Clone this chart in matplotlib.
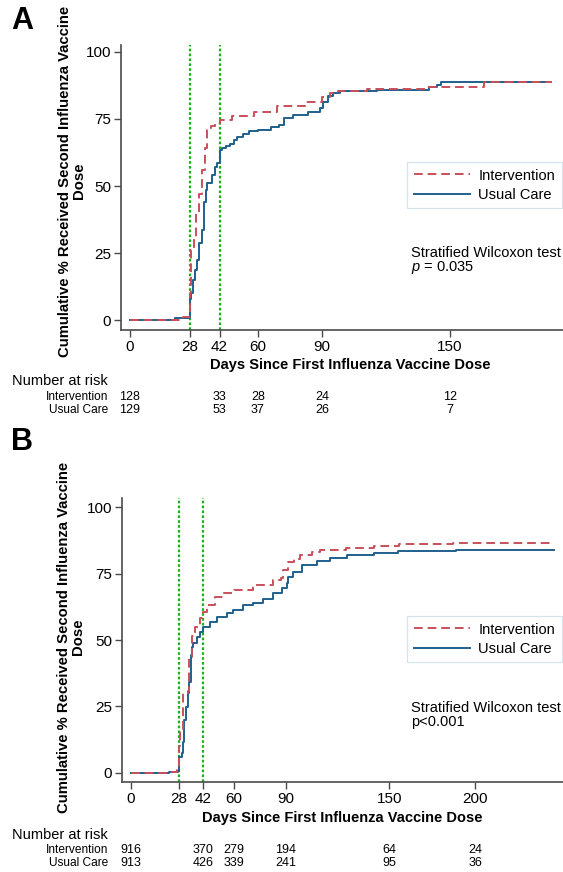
import matplotlib
matplotlib.use("Agg")
import matplotlib.pyplot as plt
from matplotlib.transforms import blended_transform_factory

plt.rcParams['font.family'] = ['Liberation Sans', 'DejaVu Sans']
plt.rcParams['mathtext.fontset'] = 'custom'
plt.rcParams['mathtext.it'] = 'Liberation Sans:italic'
plt.rcParams['mathtext.rm'] = 'Liberation Sans'

# panel A: cumulative % (step curves)
a_int_t = [0, 25, 28, 28.5, 30, 31, 32.5, 34, 35, 36, 38, 40, 42, 48, 58, 69, 82, 90, 94, 97.5, 111, 139, 166, 198]
a_int_y = [0, 1, 10, 26, 31, 40, 47, 56, 64, 71, 72.5, 73.5, 74.5, 76, 77.7, 79.8, 81.5, 83.3, 84.6, 85.5, 86.2, 87, 88.7, 88.7]
a_uc_t = [0, 21, 28, 28.5, 29.7, 30.5, 31.5, 32.5, 33.7, 34.5, 35.5, 36.3, 38.5, 40, 41, 42, 43, 45, 47, 49, 50,
          53, 56, 60, 66, 70, 72, 76.5, 83.5, 89, 90.5, 93, 95, 98.5, 115.6, 140, 144, 146, 195.3]
a_uc_y = [0, 0.8, 8, 10, 15, 18.7, 22.4, 28.7, 33.6, 44.1, 48.5, 51, 54, 57.2, 58.5, 63.4, 64.2, 65, 65.8, 67.2, 68.4,
          69.5, 70.5, 71, 72, 72.8, 75.2, 76.5, 77.6, 79, 81.5, 83.5, 84.6, 85.4, 85.8, 86.8, 87.7, 88.7, 88.7]
a_xticks = [0, 28, 42, 60, 90, 150]
a_risk_days = [0, 42, 60, 90, 150]
a_risk_int = [128, 33, 28, 24, 12]
a_risk_uc = [129, 53, 37, 26, 7]
a_ptext = "$\\it{p}$ = 0.035"

# panel B
b_int_t = [0, 22, 27, 28, 28.5, 30, 30.4, 33, 33.9, 35.3, 37.2, 40, 42, 44, 48.8, 53.7, 60, 71, 82.7, 87, 88.5,
           91.5, 95, 98.3, 105, 110, 125, 141, 156, 187, 245.5]
b_int_y = [0, 0.3, 1, 10, 15.5, 19.9, 30, 31, 43.7, 51.6, 55, 58.1, 60.6, 63.2, 66.3, 67.5, 68.8, 70.7, 72.6, 73.5, 76.3,
           79.4, 80.5, 82, 83, 83.8, 84.7, 85.4, 86, 86.6, 86.6]
b_uc_t = [0, 22, 27.5, 28, 29.4, 30.4, 31, 32, 33, 34, 35, 35.5, 36.2, 38.2, 40.1, 42, 45.9, 49.8, 55.6, 59.5, 65.3,
          71, 76.9, 82.7, 87.6, 90.5, 91.5, 94.4, 99.2, 108, 115.7, 125.4, 141, 155.4, 189, 245.5]
b_uc_y = [0, 0.3, 0.75, 6.1, 7.5, 11.8, 19.9, 24.9, 30, 34.3, 44.4, 47.5, 48.8, 51.3, 53.1, 55, 56.9, 58.8, 60, 61.3, 63.2,
          64, 65.6, 67.5, 69.4, 71.3, 73.8, 75.7, 78.2, 79.8, 80.7, 82, 82.6, 83.5, 84, 84]
b_xticks = [0, 28, 42, 60, 90, 150, 200]
b_risk_days = [0, 42, 60, 90, 150, 200]
b_risk_int = [916, 370, 279, 194, 64, 24]
b_risk_uc = [913, 426, 339, 241, 95, 36]
b_ptext = "p<0.001"

yticks = [0, 25, 50, 75, 100]
red = "#c9505a"
blue = "#1f5f8e"
green = "#19b019"
spine_c = "#4a4a4a"

W, H = 563, 872
fig = plt.figure(figsize=(W / 100, H / 100), dpi=100)


def px(x, y):
    return x / W, 1 - y / H


def panel(rect, xlim, ylim, int_t, int_y, uc_t, uc_y, xticks, risk_days, risk_int, risk_uc, ptext,
          letter, letter_y, ylab_xy, xlab_xy, stat_y, leg_y, risk_y):
    l, t, r, b = rect
    ax = fig.add_axes([l / W, 1 - b / H, (r - l) / W, (b - t) / H])
    ax.axvline(28, color=green, lw=1.6, ls=(0, (1.2, 1.0)), zorder=1)
    ax.axvline(42, color=green, lw=1.6, ls=(0, (1.2, 1.0)), zorder=1)
    ax.step(uc_t, uc_y, where='post', color=blue, lw=1.4, label='Usual Care', zorder=2)
    ax.step(int_t, int_y, where='post', color=red, lw=1.4, ls=(0, (4.5, 2.5)), label='Intervention', zorder=3)
    ax.set_xlim(*xlim)
    ax.set_ylim(*ylim)
    ax.set_xticks(xticks)
    ax.set_yticks(yticks)
    ax.tick_params(labelsize=11, length=5, width=1.0, color=spine_c, pad=2)
    for s in ['top', 'right']:
        ax.spines[s].set_visible(False)
    for s in ['left', 'bottom']:
        ax.spines[s].set_color(spine_c)
        ax.spines[s].set_linewidth(1.2)
    handles, labels = ax.get_legend_handles_labels()
    leg = ax.legend(handles[::-1], labels[::-1], loc='upper left', bbox_to_anchor=px(407, leg_y),
                    bbox_transform=fig.transFigure, fontsize=10.5, handlelength=3.9, handletextpad=0.55,
                    labelspacing=0.35, borderpad=0.45, borderaxespad=0, fancybox=False, framealpha=1)
    leg.get_frame().set_edgecolor('#d6e3ea')
    leg.get_frame().set_linewidth(0.9)

    fig.text(*px(411, stat_y), "Stratified Wilcoxon test\n" + ptext, fontsize=10.5, va='center', ha='left',
             linespacing=0.95)
    fig.text(*px(11, letter_y), letter, fontsize=22, fontweight='bold', va='center', ha='left')
    fig.text(*px(*ylab_xy), "Cumulative % Received Second Influenza Vaccine\nDose", rotation=90,
             fontsize=10.7, fontweight='bold', ha='center', va='center', multialignment='center',
             linespacing=1.05)
    fig.text(*px(*xlab_xy), "Days Since First Influenza Vaccine Dose", fontsize=10.5,
             fontweight='bold', ha='center', va='center')

    tr = blended_transform_factory(ax.transData, fig.transFigure)
    fig.text(*px(12, risk_y[0]), "Number at risk", fontsize=10.5, ha='left', va='center')
    fig.text(*px(108, risk_y[1]), "Intervention", fontsize=8.6, ha='right', va='center')
    fig.text(*px(108, risk_y[2]), "Usual Care", fontsize=8.6, ha='right', va='center')
    for d, n1, n2 in zip(risk_days, risk_int, risk_uc):
        ax.text(d, 1 - risk_y[1] / H, str(n1), transform=tr, fontsize=9, ha='center', va='center')
        ax.text(d, 1 - risk_y[2] / H, str(n2), transform=tr, fontsize=9, ha='center', va='center')
    return ax


panel((121, 45, 563, 330), (-4.2, 203), (-3.7, 102.6), a_int_t, a_int_y, a_uc_t, a_uc_y, a_xticks,
      a_risk_days, a_risk_int, a_risk_uc, a_ptext, "A", 21, (72, 181), (350, 365), 261, 162, (381, 396.5, 410))
panel((122, 498, 563, 782), (-5.2, 251), (-3.4, 103.4), b_int_t, b_int_y, b_uc_t, b_uc_y, b_xticks,
      b_risk_days, b_risk_int, b_risk_uc, b_ptext, "B", 442, (71, 637), (342, 818), 715, 616, (835, 850, 863))

fig.savefig("out.png", dpi=100)
